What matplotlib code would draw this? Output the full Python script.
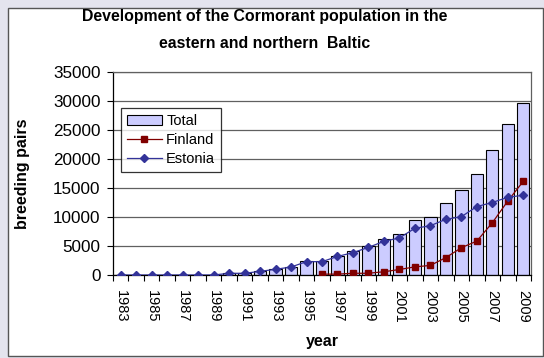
import numpy as np
import matplotlib
matplotlib.use("Agg")
import matplotlib.pyplot as plt
from matplotlib.patches import Rectangle

plt.rcParams['font.family'] = ['Liberation Sans', 'DejaVu Sans']

years = list(range(1983, 2010))
total = [0, 0, 0, 0, 20, 40, 80, 350, 400, 700, 1000, 1450, 2350, 2400,
         3300, 4200, 5050, 6150, 7150, 9400, 10000, 12500, 14600, 17500,
         21600, 26000, 29700]
estonia = [0, 0, 0, 0, 0, 0, 0, 290, 290, 630, 980, 1380, 2300, 2300,
           3200, 3850, 4770, 5800, 6400, 8050, 8500, 9600, 10050, 11800,
           12500, 13400, 13750]
finland = [np.nan] * 13 + [150, 150, 300, 300, 560, 950, 1400, 1650, 3000,
                           4700, 5850, 9000, 12750, 16150]

W, H = 544, 358
fig = plt.figure(figsize=(W / 100, H / 100), dpi=100, facecolor='#e4e4ee')

# white chart frame
fig.patches.append(Rectangle((8 / W, 2 / H), 535 / W, 348 / H, transform=fig.transFigure,
                             facecolor='white', edgecolor='#555555', linewidth=1.0, zorder=-5))

ax = fig.add_axes([113 / W, 1 - 275 / H, 418 / W, 203 / H])
ax.set_zorder(2)
x = np.arange(len(years))

b = ax.bar(x, total, width=0.8, color='#ccccff', edgecolor='black', linewidth=0.8,
           label='Total', zorder=2)
lf, = ax.plot(x, finland, color='#800000', marker='s', markersize=4.2, linewidth=0.9,
              label='Finland', zorder=3)
le, = ax.plot(x, estonia, color='#333399', marker='D', markersize=4.2, linewidth=0.9,
              label='Estonia', zorder=4)

ax.set_xlim(-0.5, len(years) - 0.5)
ax.set_ylim(0, 35000)
ax.set_yticks(np.arange(0, 35001, 5000))
ax.yaxis.grid(True, color='#606060', linewidth=0.9, zorder=0)
ax.set_axisbelow(True)

ax.set_xticks(x[::2])
ax.set_xticklabels([str(y) for y in years[::2]], rotation=270, fontsize=10.5)
ax.set_xticks(np.arange(-0.5, len(years)), minor=True)
ax.tick_params(axis='x', which='major', length=0, pad=11)
ax.tick_params(axis='x', which='minor', length=4, width=0.8, direction='out')
ax.tick_params(axis='y', length=4, width=0.8, labelsize=12.3, pad=5)

for s in ['top', 'right']:
    ax.spines[s].set_color('#606060')
    ax.spines[s].set_linewidth(0.9)
for s in ['left', 'bottom']:
    ax.spines[s].set_color('black')
    ax.spines[s].set_linewidth(0.9)

ax.set_ylabel('breeding pairs', fontsize=11.5, fontweight='bold')
ax.yaxis.set_label_coords(-(113 - 30) / 418, 0.5)
ax.set_xlabel('year', fontsize=11.5, fontweight='bold')
ax.xaxis.set_label_coords(0.5, -(334 - 275) / 203)

fig.text(265 / W, 1 - 17 / H, 'Development of the Cormorant population in the',
         ha='center', va='center', fontsize=11.4, fontweight='bold')
fig.text(265 / W, 1 - 44 / H, 'eastern and northern  Baltic',
         ha='center', va='center', fontsize=11.4, fontweight='bold')

leg = ax.legend([b, lf, le], ['Total', 'Finland', 'Estonia'],
                loc='upper left', bbox_to_anchor=(8 / 418, (275 - 108) / 203),
                fontsize=10.5, frameon=True, fancybox=False, borderpad=0.4,
                handlelength=2.4, labelspacing=0.35, handletextpad=0.3,
                borderaxespad=0)
leg.get_frame().set_edgecolor('black')
leg.get_frame().set_linewidth(0.9)

fig.savefig('out.png', dpi=100, facecolor=fig.get_facecolor())
